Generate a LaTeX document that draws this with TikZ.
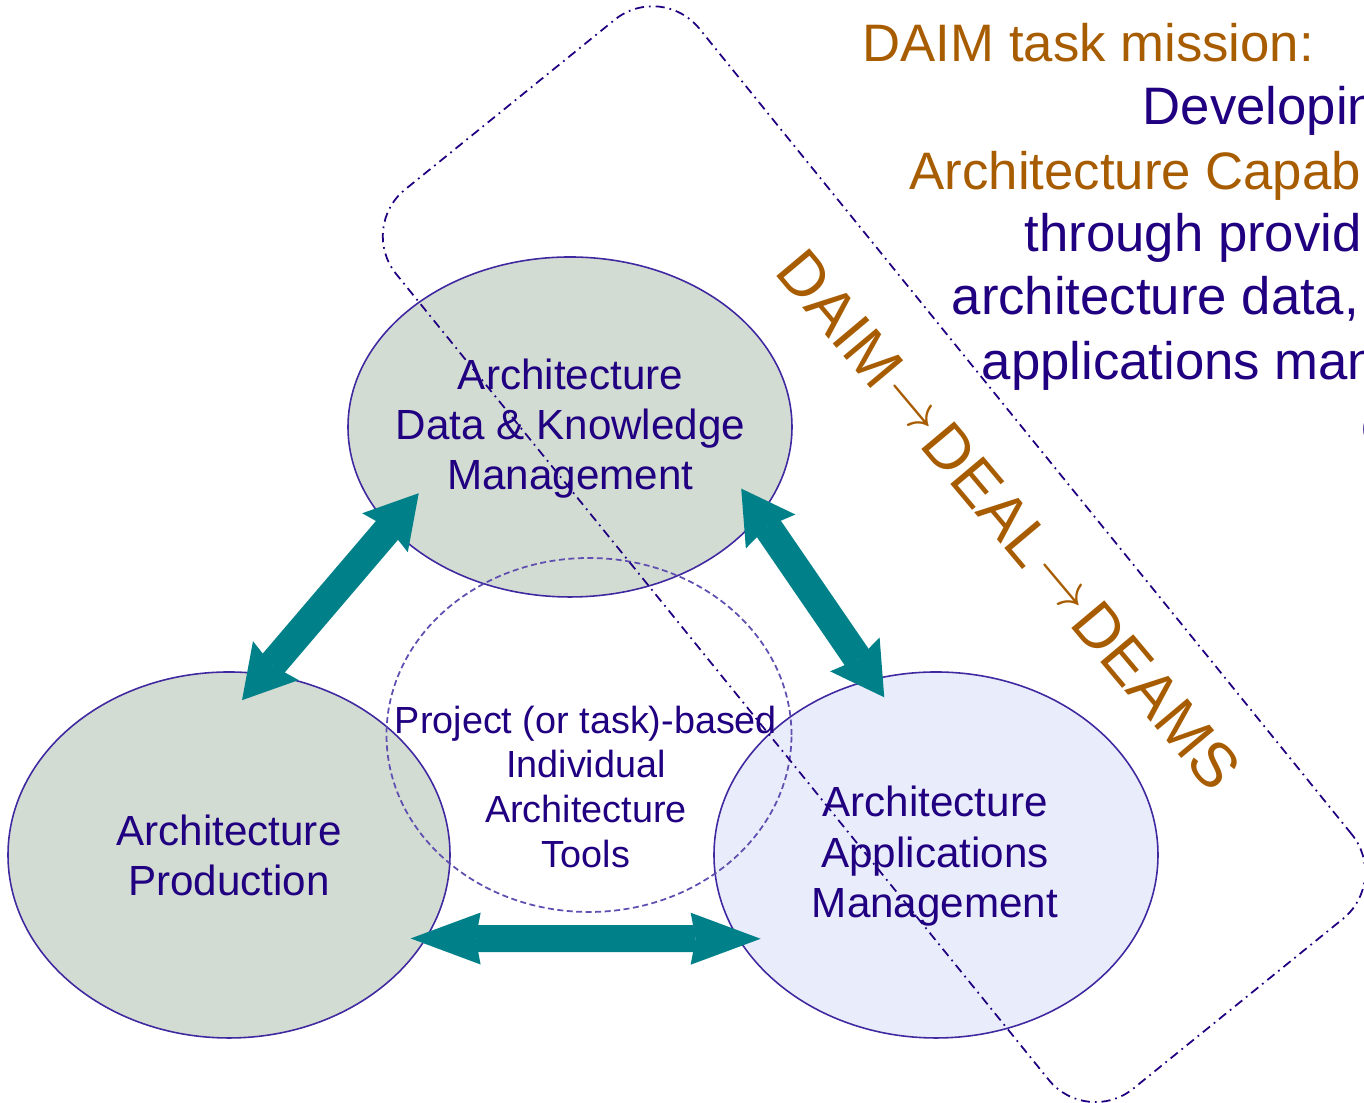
\documentclass[tikz,border=0pt]{standalone}
\usepackage{fontspec}
\setmainfont{Liberation Sans}
\usetikzlibrary{shapes.geometric,arrows.meta}

\definecolor{daimorange}{RGB}{168,92,0}
\definecolor{daimblue}{RGB}{32,0,128}
\definecolor{ellline}{RGB}{64,40,160}
\definecolor{tooldash}{RGB}{96,78,176}
\definecolor{sagefill}{RGB}{211,220,211}
\definecolor{lilacfill}{RGB}{233,236,250}
\definecolor{arrowteal}{RGB}{0,128,136}

\newcommand{\stageto}{\kern0.07em\raisebox{0.08em}{$\rightarrow$}\kern0.07em}

\begin{document}
\begin{tikzpicture}[
  bubble/.style={ellipse, draw=ellline, line width=0.45pt, inner sep=0pt, outer sep=0pt},
  bubbletext/.style={text=daimblue, align=center, font=\fontsize{12}{14.2}\selectfont},
  diaglink/.style={arrowteal, line width=2.9mm,
    {Stealth[length=5.2mm,width=6mm,inset=0.6mm,line width=0pt]}-{Stealth[length=5.2mm,width=6mm,inset=0.6mm,line width=0pt]}},
  flatlink/.style={arrowteal, line width=2.7mm,
    {Stealth[length=7mm,width=5.2mm,inset=0.5mm,line width=0pt]}-{Stealth[length=7mm,width=5.2mm,inset=0.5mm,line width=0pt]}},
  missiontext/.style={anchor=base west, inner sep=0pt, font=\fontsize{15}{18}\selectfont},
  daimframe/.style={draw=daimblue, line width=0.5pt, rounded corners=6mm,
    dash pattern=on 2.6pt off 1.4pt on 0.5pt off 1.4pt,
    minimum width=11.57cm, minimum height=3.9cm, inner sep=0pt, rotate=-51}
]
\useasboundingbox (0,0) rectangle (13.64,11.03);
\clip (0,0) rectangle (13.64,11.03);

%% Three areas
\node[bubble, fill=sagefill, minimum width=4.44cm, minimum height=3.4cm] (know) at (5.70,6.76) {};
\node[bubble, fill=sagefill, minimum width=4.42cm, minimum height=3.66cm] (prod) at (2.29,2.48) {};
\node[bubble, fill=lilacfill, minimum width=4.44cm, minimum height=3.66cm] (apps) at (9.36,2.48) {};

% tools in the middle
\node[ellipse, draw=tooldash, line width=0.5pt, dash pattern=on 1.7pt off 1pt,
  inner sep=0pt, minimum width=4.05cm, minimum height=3.54cm] (tools) at (5.89,3.68) {};

% links
\draw[diaglink, shorten <=-3.4mm, shorten >=-4.4mm] (prod.79) -- (know.209);
\draw[diaglink, shorten <=-3.25mm, shorten >=-2.13mm] (know.335) -- (apps.110);
\draw[flatlink, shorten <=-1.5mm, shorten >=-2.2mm] (prod.337) -- (apps.203);

% labels
\node[bubbletext] (knowlabel) at (5.705,6.74) {Architecture\\Data \& Knowledge\\Management};
\node[bubbletext] (prodlabel) at (2.29,2.48) {Architecture\\Production};
\node[bubbletext, font=\fontsize{12}{14.35}\selectfont] (appslabel) at (9.35,2.465) {Architecture\\Applications\\Management};
\node[bubbletext, font=\fontsize{10.75}{12.8}\selectfont] (toolslabel) at (5.86,3.16)
  {Project (or task)-based\\Individual\\Architecture\\Tools};

% DAIM scope
\node[daimframe] (mandate) at (8.74,5.488) {};
\node[rotate=-50, inner sep=0pt, text=daimorange, font=\fontsize{17.8}{20}\selectfont]
  (evolution) at (10.09,5.83) {DAIM\stageto DEAL\stageto DEAMS};

% mission
\node[missiontext, text=daimorange] (mission) at (8.62,10.413) {DAIM task mission:};
\node[missiontext, text=daimblue] (line1) at (11.42,9.78) {Developin};
\node[missiontext, text=daimorange] (line2) at (9.09,9.137) {Architecture Capab};
\node[missiontext, text=daimblue] (line3) at (10.24,8.513) {through provid};
\node[missiontext, text=daimblue] (line4) at (9.51,7.88) {architecture data,};
\node[missiontext, text=daimblue] (line5) at (9.81,7.23) {applications man};
\node[missiontext, text=daimblue] (line6) at (13.605,6.59) {c};

\end{tikzpicture}
\end{document}
